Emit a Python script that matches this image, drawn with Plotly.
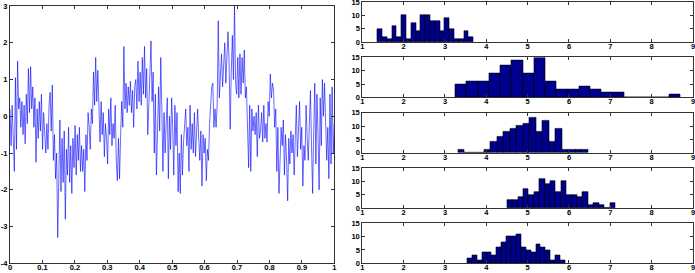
import numpy as np
import plotly.graph_objects as go

# ---------------- data ----------------
# left panel: noisy signal (3 samples per 0.01 of x)
signal = [
    0.2, -0.8, 0.3,   -0.6, -1.5, 1.05,  -0.9, 1.5, 0.2,   0.5, -0.3, 0.4,   -0.5, 0.3, -0.75,
    0.6, -0.2, 1.3,   0.1, 1.35, 0.2,    0.8, -0.3, 0.5,   -1.25, 0.2, -0.6, 0.4, -0.4, 0.6,
    -0.9, 0.1, -0.6,  -1.0, -0.2, -0.9,  0.3, 0.65, -0.4,  0.85, -1.2, -0.5, -1.7, -1.0, -3.3,
    -1.9, -0.1, -2.05, -0.6, -1.8, -0.4, -2.8, -0.9, -1.6, -0.3, -1.8, -0.8, -2.1, -0.6, -1.4,
    -0.25, -1.6, -0.5, -1.2, -0.3, -1.5, -0.8, -1.5, -0.9, -2.05, -0.5, -1.2, 0.1, -0.3, -0.9,
    0.2, -0.2, 1.2,   0.3, 1.6, 0.4,     1.25, -0.2, -0.7, 0.4, -0.5, 0.1,   -1.1, -0.2, -0.6,
    -1.3, 0.2, -0.5,  0.5, -0.8, -0.2,   -0.6, 0.3, -1.2,  -1.75, -0.6, -1.7, -0.5, 0.4, -0.3,
    1.9, 0.2, 0.9,    0.1, 0.8, 0.3,     0.95, 0.1, 0.7,   -0.3, 0.8, 1.0,   0.2, 1.5, 0.4,
    1.2, 0.3, 1.6,    0.6, 1.9, 0.5,     1.3, -0.5, 0.3,   1.1, 2.05, 0.4,   1.2, -1.0, 0.6,
    -1.6, -0.2, 0.8,  -0.4, 1.6, 0.2,    -1.5, 0.1, -1.0,  -0.2, 0.5, -1.7,  0.0, -0.9, 0.5,
    -0.3, -1.6, 0.3,  -0.8, 0.1, -2.05,  -1.0, -2.1, -0.5, -1.6, -0.7, -0.2, 0.2, -0.8, -0.3,
    -1.5, 0.3, -0.9,  -0.2, -1.0, 0.1,   -1.1, -0.3, 0.2,  -0.6, -1.2, -0.4, -1.9, -0.5, -1.0,
    -0.6, -1.75, -0.9, -1.2, -0.2, 0.3,  0.8, 0.9, -0.3,   0.2, -0.3, 0.3,   2.6, 0.5, 1.0,
    1.7, 0.8, 1.4,    2.0, 0.9, 1.6,     2.3, 1.5, -0.35,  1.2, 2.2, 1.0,    3.0, 0.9, 0.6,
    1.6, 0.5, 1.7,    0.6, 1.6, 0.9,     1.8, 0.5, 0.8,    -0.8, -1.4, 0.3,  -1.5, 0.2, -0.4,
    0.0, -0.5, 0.1,   -1.1, 0.3, -0.6,   -0.4, 0.1, -0.7,  0.3, -0.6, -0.2,  -0.7, 0.4, 0.0,
    1.15, 0.5, 0.9,   0.7, -0.3, 0.2,    -1.5, -0.3, -2.1, -1.2, -0.3, -0.8, -0.1, -1.6, -0.5,
    -1.2, -2.3, -0.6, -1.3, -0.4, -1.0,  -0.5, -1.6, -0.6, 0.3, -1.1, -0.2,  0.4, -0.9, -0.3,
    -1.9, -0.8, -1.2, 0.3, -0.6, -1.2,   -0.2, 0.7, -0.8,  -2.1, -0.4, 0.9,  -1.3, 0.6, -0.5,
    -2.0, 0.5, -0.8,  1.0, 0.0, 0.9,     -0.6, -1.2, -0.3, -1.7, 0.6, -1.3,  0.8, -1.0, -0.2,
]
signal_x_range = [0.0, 1.0]

x_ticks = [0, 0.1, 0.2, 0.3, 0.4, 0.5, 0.6, 0.7, 0.8, 0.9, 1]
x_tick_labels = ["0", "0.1", "0.2", "0.3", "0.4", "0.5", "0.6", "0.7", "0.8", "0.9", "1"]
y_ticks = [-4, -3, -2, -1, 0, 1, 2, 3]
y_tick_labels = ["-4", "-3", "-2", "-1", "0", "1", "2", "3"]

# right panels: 20-bin histograms (first bin start, last bin end, counts)
hist1_range = [1.37, 3.69]
hist1_counts = [5, 2, 1, 6, 2, 10, 1, 7, 4, 10, 10, 8, 8, 4, 9, 5, 1, 1, 4, 2]
hist2_range = [3.25, 8.70]
hist2_counts = [5, 6, 6, 9, 12, 14, 9, 15, 6, 3, 3, 4, 3, 2, 2, 0, 0, 0, 0, 1]
hist3_range = [3.32, 6.46]
hist3_counts = [1, 0, 0, 0, 1, 4, 6, 8, 9, 10, 11, 13, 8, 12, 4, 9, 1, 1, 1, 1]
hist4_range = [4.50, 7.12]
hist4_counts = [3, 3, 4, 7, 5, 6, 11, 9, 10, 6, 10, 5, 5, 4, 6, 1, 2, 1, 0, 2]
hist5_range = [3.54, 5.91]
hist5_counts = [2, 3, 1, 4, 4, 3, 6, 8, 10, 10, 11, 6, 5, 4, 7, 6, 5, 1, 3, 1]

hist_x_ticks = [1, 2, 3, 4, 5, 6, 7, 8, 9]
hist_x_tick_labels = ["1", "2", "3", "4", "5", "6", "7", "8", "9"]
hist_y_ticks = [0, 5, 10, 15]
hist_y_tick_labels = ["0", "5", "10", "15"]

hists = [
    (hist1_range, hist1_counts),
    (hist2_range, hist2_counts),
    (hist3_range, hist3_counts),
    (hist4_range, hist4_counts),
    (hist5_range, hist5_counts),
]

# ---------------- layout ----------------
W, H = 695, 273
FONT = dict(family="Liberation Sans, Arial, Helvetica, sans-serif", size=7.5,
            color="black", weight="bold")
AXCOL = "#333333"


def px_x(p):
    return p / W


def px_y(p):
    return 1 - p / H


fig = go.Figure()

xs = np.linspace(signal_x_range[0], signal_x_range[1], len(signal))
fig.add_trace(go.Scatter(x=xs, y=signal, mode="lines",
                         line=dict(color="#0000ff", width=0.6),
                         xaxis="x", yaxis="y", showlegend=False, hoverinfo="skip"))

common_axis = dict(showline=True, linecolor=AXCOL, linewidth=1, mirror="ticks",
                   ticks="inside", ticklen=3, tickcolor=AXCOL, tickwidth=1,
                   showgrid=False, zeroline=False, tickfont=FONT, automargin=False,
                   ticklabeloverflow="allow")
x_axis_extra = dict(ticklabelstandoff=-3)

layout = dict(
    width=W, height=H,
    margin=dict(l=0, r=0, t=0, b=0),
    paper_bgcolor="white", plot_bgcolor="white",
    showlegend=False, bargap=0,
    xaxis=dict(domain=[px_x(10), px_x(334.3)], range=[0, 1], anchor="y",
               tickvals=x_ticks, ticktext=x_tick_labels, **common_axis, **x_axis_extra),
    yaxis=dict(domain=[px_y(263.3), px_y(6)], range=[-4, 3], anchor="x",
               tickvals=y_ticks, ticktext=y_tick_labels, **common_axis),
)

bottoms = [42.1, 97.4, 152.7, 208.0, 263.3]
for i, ((lo, hi), counts) in enumerate(hists):
    n = i + 2
    edges = np.linspace(lo, hi, len(counts) + 1)
    centers = (edges[:-1] + edges[1:]) / 2
    width = edges[1] - edges[0]
    fig.add_trace(go.Bar(x=centers, y=counts, width=width,
                         marker=dict(color="#00008f", line=dict(color="black", width=0.6)),
                         xaxis=f"x{n}", yaxis=f"y{n}", showlegend=False, hoverinfo="skip"))
    b = bottoms[i]
    layout[f"xaxis{n}"] = dict(domain=[px_x(362.3), px_x(693)], range=[1, 9], anchor=f"y{n}",
                               tickvals=hist_x_ticks, ticktext=hist_x_tick_labels,
                               **common_axis, **x_axis_extra)
    layout[f"yaxis{n}"] = dict(domain=[px_y(b), px_y(b - 40)], range=[0, 15], anchor=f"x{n}",
                               tickvals=hist_y_ticks, ticktext=hist_y_tick_labels, **common_axis)

fig.update_layout(**layout)
fig.write_html("out.html", config={"displayModeBar": False},
               post_script="document.body.style.margin='0';document.body.style.padding='0';")
